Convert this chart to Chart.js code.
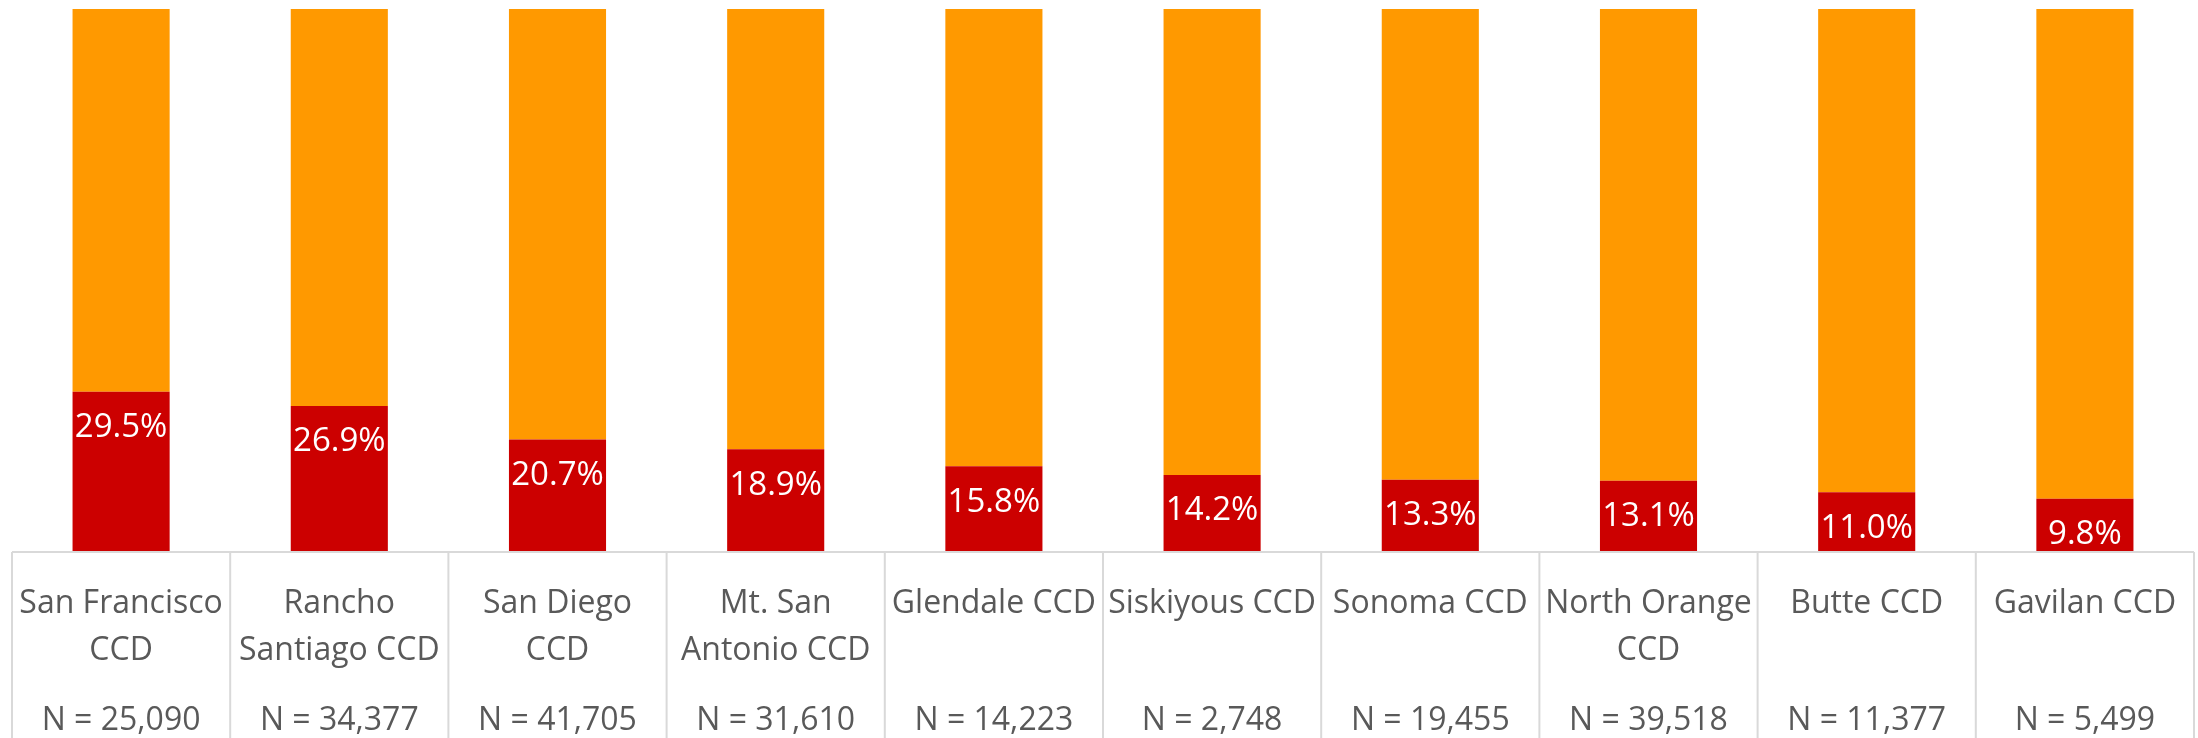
<!DOCTYPE html>
<html>
<head>
<meta charset="utf-8">
<script src="https://cdn.jsdelivr.net/npm/chart.js@4/dist/chart.umd.min.js"></script>
<style>
  html, body { margin: 0; padding: 0; background: #fff; }
  #wrap { width: 2198px; height: 738px; }
</style>
</head>
<body>
<div id="wrap"><canvas id="chart-ccd"></canvas></div>
<script>
const districts = [
    ['San Francisco', 'CCD'],
    ['Rancho', 'Santiago CCD'],
    ['San Diego', 'CCD'],
    ['Mt. San', 'Antonio CCD'],
    'Glendale CCD',
    'Siskiyous CCD',
    'Sonoma CCD',
    ['North Orange', 'CCD'],
    'Butte CCD',
    'Gavilan CCD',
]
const sampleSizes = ['N = 25,090', 'N = 34,377', 'N = 41,705', 'N = 31,610', 'N = 14,223',
    'N = 2,748', 'N = 19,455', 'N = 39,518', 'N = 11,377', 'N = 5,499']
const redShare = [29.5, 26.9, 20.7, 18.9, 15.8, 14.2, 13.3, 13.1, 11.0, 9.8]
const orangeShare = [70.5, 73.1, 79.3, 81.1, 84.2, 85.8, 86.7, 86.9, 89.0, 90.2]

const labelFont = "'Open Sans', 'Noto Sans', sans-serif"

// table lines under the bars
const tableLines = {
    id: 'tableLines',
    afterDraw(chart) {
        const ctx = chart.ctx
        const x = chart.scales.x
        const area = chart.chartArea
        const step = x.width / districts.length
        ctx.save()
        ctx.strokeStyle = '#d9d9d9'
        ctx.lineWidth = 2
        ctx.beginPath()
        ctx.moveTo(x.left, area.bottom)
        ctx.lineTo(x.right, area.bottom)
        for (let i = 0; i <= districts.length; i++) {
            const px = x.left + i * step
            ctx.moveTo(px, area.bottom)
            ctx.lineTo(px, chart.height)
        }
        ctx.stroke()
        ctx.restore()
    },
}

// white percent labels at the top of the red segments
const valueLabels = {
    id: 'valueLabels',
    afterDatasetsDraw(chart) {
        const ctx = chart.ctx
        const meta = chart.getDatasetMeta(0)
        ctx.save()
        ctx.fillStyle = '#ffffff'
        ctx.font = '33px ' + labelFont
        ctx.textAlign = 'center'
        ctx.textBaseline = 'middle'
        meta.data.forEach((bar, i) => {
            ctx.fillText(redShare[i].toFixed(1) + '%', bar.x, bar.y + 36)
        })
        ctx.restore()
    },
}

// fixed row heights, no side padding from the long labels
function fixHeight(h) {
    return function (scale) {
        scale.height = h
        scale.paddingLeft = 0
        scale.paddingRight = 0
    }
}

new Chart('chart-ccd', {
    type: 'bar',
    data: {
        labels: districts,
        datasets: [
            {
                data: redShare,
                backgroundColor: '#cc0000',
                categoryPercentage: 1,
                barPercentage: 0.445,
            },
            {
                data: orangeShare,
                backgroundColor: '#ff9900',
                categoryPercentage: 1,
                barPercentage: 0.445,
            },
        ],
    },
    options: {
        responsive: true,
        maintainAspectRatio: false,
        animation: false,
        layout: {
            padding: { top: 9, left: 12, right: 4, bottom: 0 },
        },
        plugins: {
            legend: { display: false },
            tooltip: { enabled: false },
        },
        scales: {
            x: {
                stacked: true,
                weight: 0,
                afterFit: fixHeight(150),
                grid: { display: false, drawTicks: false },
                border: { display: false },
                ticks: {
                    color: '#595959',
                    padding: 28,
                    maxRotation: 0,
                    autoSkip: false,
                    font: { size: 32, family: labelFont, lineHeight: '47.5px' },
                },
            },
            x2: {
                type: 'category',
                position: 'bottom',
                labels: sampleSizes,
                offset: true,
                weight: 1,
                afterFit: fixHeight(36),
                grid: { display: false, drawTicks: false },
                border: { display: false },
                ticks: {
                    color: '#595959',
                    padding: 1,
                    maxRotation: 0,
                    autoSkip: false,
                    font: { size: 32, family: labelFont, lineHeight: '36px' },
                },
            },
            y: {
                stacked: true,
                display: false,
                min: 0,
                max: 100,
            },
        },
    },
    plugins: [tableLines, valueLabels],
})
</script>
</body>
</html>
